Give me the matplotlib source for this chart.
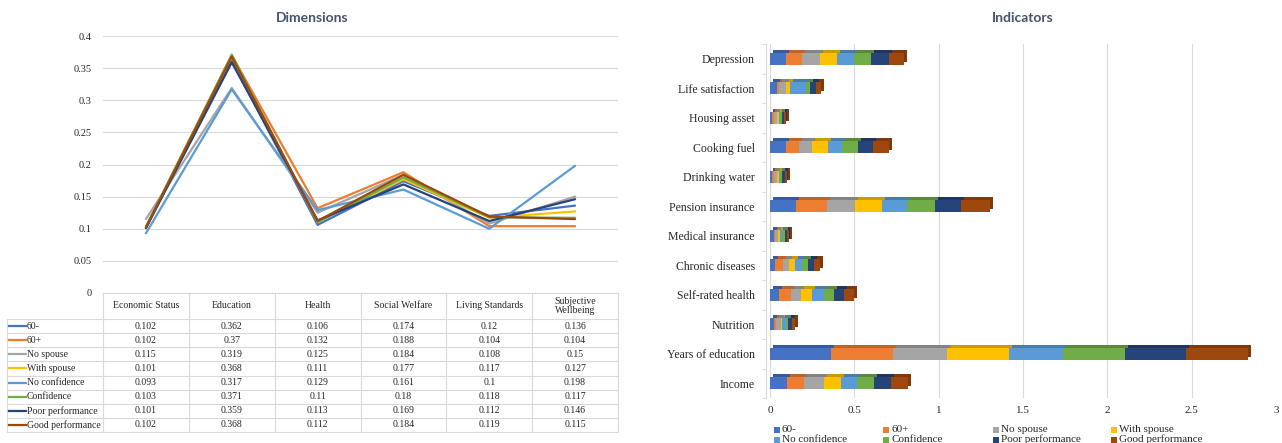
import matplotlib
matplotlib.use("Agg")
import matplotlib.pyplot as plt
import numpy as np
from matplotlib.transforms import ScaledTranslation
from matplotlib.patches import Rectangle
from matplotlib.ticker import FuncFormatter

# ---------------------------------------------------------------- data
groups = ["60-", "60+", "No spouse", "With spouse", "No confidence",
          "Confidence", "Poor performance", "Good performance"]
colors = ["#4472C4", "#ED7D31", "#A5A5A5", "#FFC000", "#5B9BD5",
          "#70AD47", "#264478", "#9E480E"]

dimension_names = ["Economic Status", "Education", "Health", "Social Welfare",
                   "Living Standards", "Subjective\nWellbeing"]

# dimension weights, one value per group
economic_status = [0.102, 0.102, 0.115, 0.101, 0.093, 0.103, 0.101, 0.102]
education = [0.362, 0.37, 0.319, 0.368, 0.317, 0.371, 0.359, 0.368]
health = [0.106, 0.132, 0.125, 0.111, 0.129, 0.11, 0.113, 0.112]
social_welfare = [0.174, 0.188, 0.184, 0.177, 0.161, 0.18, 0.169, 0.184]
living_standards = [0.12, 0.104, 0.108, 0.117, 0.1, 0.118, 0.112, 0.119]
subjective_wellbeing = [0.136, 0.104, 0.15, 0.127, 0.198, 0.117, 0.146, 0.115]

# indicator weights, one value per group (bottom row first)
indicator_names = ["Income", "Years of education", "Nutrition", "Self-rated health",
                   "Chronic diseases", "Medical insurance", "Pension insurance",
                   "Drinking water", "Cooking fuel", "Housing asset",
                   "Life satisfaction", "Depression"]
income = [0.102, 0.102, 0.115, 0.101, 0.093, 0.103, 0.101, 0.102]
years_of_education = [0.362, 0.37, 0.319, 0.368, 0.317, 0.371, 0.359, 0.368]
nutrition = [0.023, 0.015, 0.025, 0.011, 0.022, 0.013, 0.020, 0.017]
self_rated_health = [0.053, 0.070, 0.063, 0.063, 0.070, 0.060, 0.060, 0.058]
chronic_diseases = [0.030, 0.047, 0.037, 0.037, 0.037, 0.037, 0.033, 0.037]
medical_insurance = [0.022, 0.005, 0.018, 0.013, 0.013, 0.016, 0.013, 0.010]
pension_insurance = [0.152, 0.183, 0.166, 0.164, 0.148, 0.164, 0.156, 0.174]
drinking_water = [0.014, 0.012, 0.015, 0.012, 0.008, 0.013, 0.012, 0.013]
cooking_fuel = [0.093, 0.079, 0.079, 0.093, 0.085, 0.093, 0.089, 0.095]
housing_asset = [0.013, 0.013, 0.014, 0.012, 0.007, 0.012, 0.011, 0.011]
life_satisfaction = [0.039, 0.013, 0.043, 0.026, 0.094, 0.020, 0.038, 0.028]
depression = [0.097, 0.091, 0.107, 0.101, 0.104, 0.097, 0.108, 0.087]

dim_matrix = np.array([economic_status, education, health, social_welfare,
                       living_standards, subjective_wellbeing])          # (6, 8)
ind_matrix = np.array([income, years_of_education, nutrition, self_rated_health,
                       chronic_diseases, medical_insurance, pension_insurance,
                       drinking_water, cooking_fuel, housing_asset,
                       life_satisfaction, depression])                   # (12, 8)

# ---------------------------------------------------------------- style
W, H = 1282, 443
SERIF = "Liberation Serif"
TITLE_FONT = "Lato"
TITLE_COLOR = "#44546A"
GRID = "#D9D9D9"
TEXT = "#262626"
plt.rcParams["font.family"] = [SERIF, "DejaVu Serif"]


def fx(px):
    return px / W


def fy(py):
    return 1 - py / H


def shade(c, f=0.8):
    r, g, b = matplotlib.colors.to_rgb(c)
    return (r * f, g * f, b * f)


fig = plt.figure(figsize=(W / 100, H / 100), dpi=100)
fig.patch.set_facecolor("white")

# ---------------------------------------------------------------- left: line chart
L_LEFT, L_RIGHT, L_TOP, L_BOTTOM = 103, 618, 36, 293
axl = fig.add_axes([fx(L_LEFT), fy(L_BOTTOM), (L_RIGHT - L_LEFT) / W,
                    (L_BOTTOM - L_TOP) / H])
x = np.arange(len(dimension_names))
for gi, (g, c) in enumerate(zip(groups, colors)):
    axl.plot(x, dim_matrix[:, gi], color=c, lw=1.6, zorder=3 + gi,
             solid_joinstyle="round", solid_capstyle="round")
axl.set_xlim(-0.5, len(dimension_names) - 0.5)
axl.set_ylim(0, 0.4)
axl.set_yticks(np.arange(0, 0.4001, 0.05))
axl.yaxis.set_major_formatter(FuncFormatter(lambda v, p: f"{round(v, 2):g}"))
axl.set_xticks([])
axl.tick_params(axis="y", length=0, pad=8, labelsize=7.5, labelcolor=TEXT)
axl.yaxis.grid(True, color=GRID, lw=0.8)
axl.set_axisbelow(True)
for s in axl.spines.values():
    s.set_visible(False)
fig.text(fx((7 + L_RIGHT) / 2), fy(18), "Dimensions", ha="center", va="center",
         fontsize=10, fontweight="bold", family=TITLE_FONT, color=TITLE_COLOR)

# data table under the line chart
axt = fig.add_axes([0, 0, 1, 1])
axt.set_xlim(0, W)
axt.set_ylim(H, 0)
axt.axis("off")
col_edges = np.linspace(L_LEFT, L_RIGHT, len(dimension_names) + 1)
row_edges = np.linspace(319, 432, len(groups) + 1)
head_top = L_BOTTOM
lab_left = 7
axt.plot([L_LEFT, L_RIGHT], [head_top, head_top], color=GRID, lw=0.8)
for yy in row_edges:
    axt.plot([lab_left, L_RIGHT], [yy, yy], color=GRID, lw=0.8)
axt.plot([lab_left, lab_left], [row_edges[0], row_edges[-1]], color=GRID, lw=0.8)
for xx in col_edges:
    axt.plot([xx, xx], [head_top, row_edges[-1]], color=GRID, lw=0.8)
for ci, name in enumerate(dimension_names):
    xc = (col_edges[ci] + col_edges[ci + 1]) / 2
    axt.text(xc, (head_top + row_edges[0]) / 2, name, ha="center", va="center",
             fontsize=7, color=TEXT, linespacing=1.05)
for gi, (g, c) in enumerate(zip(groups, colors)):
    yc = (row_edges[gi] + row_edges[gi + 1]) / 2
    axt.plot([lab_left + 2, lab_left + 19], [yc, yc], color=c, lw=1.6)
    axt.text(lab_left + 20, yc, g, ha="left", va="center", fontsize=7, color=TEXT)
    for ci in range(len(dimension_names)):
        xc = (col_edges[ci] + col_edges[ci + 1]) / 2
        axt.text(xc, yc, f"{dim_matrix[ci, gi]:g}", ha="center", va="center",
                 fontsize=7, color=TEXT)

# ---------------------------------------------------------------- right: stacked bars
R_LEFT, R_RIGHT, R_TOP, R_BOTTOM = 770, 1276, 44, 398
axr = fig.add_axes([fx(R_LEFT), fy(R_BOTTOM), (R_RIGHT - R_LEFT) / W,
                    (R_BOTTOM - R_TOP) / H])
ypos = np.arange(len(indicator_names))
depth = ScaledTranslation(3 / 100, 3 / 100, fig.dpi_scale_trans)
left = np.zeros(len(indicator_names))
bar_h = 0.42
for gi, (g, c) in enumerate(zip(groups, colors)):
    vals = ind_matrix[:, gi]
    # depth face, shifted up and right
    axr.barh(ypos, vals, left=left, height=bar_h, color=shade(c), linewidth=0,
             transform=axr.transData + depth, zorder=2, clip_on=False)
    axr.barh(ypos, vals, left=left, height=bar_h, color=c, linewidth=0,
             zorder=3, label=g)
    left += vals
axr.set_xlim(0, 3)
axr.set_ylim(-0.5, len(indicator_names) - 0.5)
axr.set_xticks(np.arange(0, 3.01, 0.5))
axr.xaxis.set_major_formatter(FuncFormatter(lambda v, p: f"{v:g}"))
axr.set_yticks(ypos)
axr.set_yticklabels(indicator_names)
axr.set_yticks(np.arange(-0.5, len(indicator_names), 1), minor=True)
axr.tick_params(axis="y", which="major", length=0, pad=8, labelsize=8.5, labelcolor=TEXT)
axr.tick_params(axis="y", which="minor", length=3, color=GRID, direction="out")
axr.tick_params(axis="x", length=0, pad=6, labelsize=8, labelcolor=TEXT)
axr.xaxis.grid(True, color=GRID, lw=0.8)
axr.set_axisbelow(True)
for k, s in axr.spines.items():
    s.set_visible(k == "left")
axr.spines["left"].set_color(GRID)
axr.spines["left"].set_position(("outward", 3))
fig.text(fx((R_LEFT + R_RIGHT) / 2), fy(18), "Indicators", ha="center", va="center",
         fontsize=10, fontweight="bold", family=TITLE_FONT, color=TITLE_COLOR)

# legend below the bar chart, four entries per row
leg_x = [774, 883, 993, 1111]
leg_y = [430, 439.5]
for gi, (g, c) in enumerate(zip(groups, colors)):
    lx, ly = leg_x[gi % 4], leg_y[gi // 4]
    axt.add_patch(Rectangle((lx, ly - 3), 6, 6, color=c, lw=0))
    axt.text(lx + 8, ly, g, ha="left", va="center", fontsize=8, color=TEXT)

fig.savefig("out.png", dpi=100, facecolor="white")
